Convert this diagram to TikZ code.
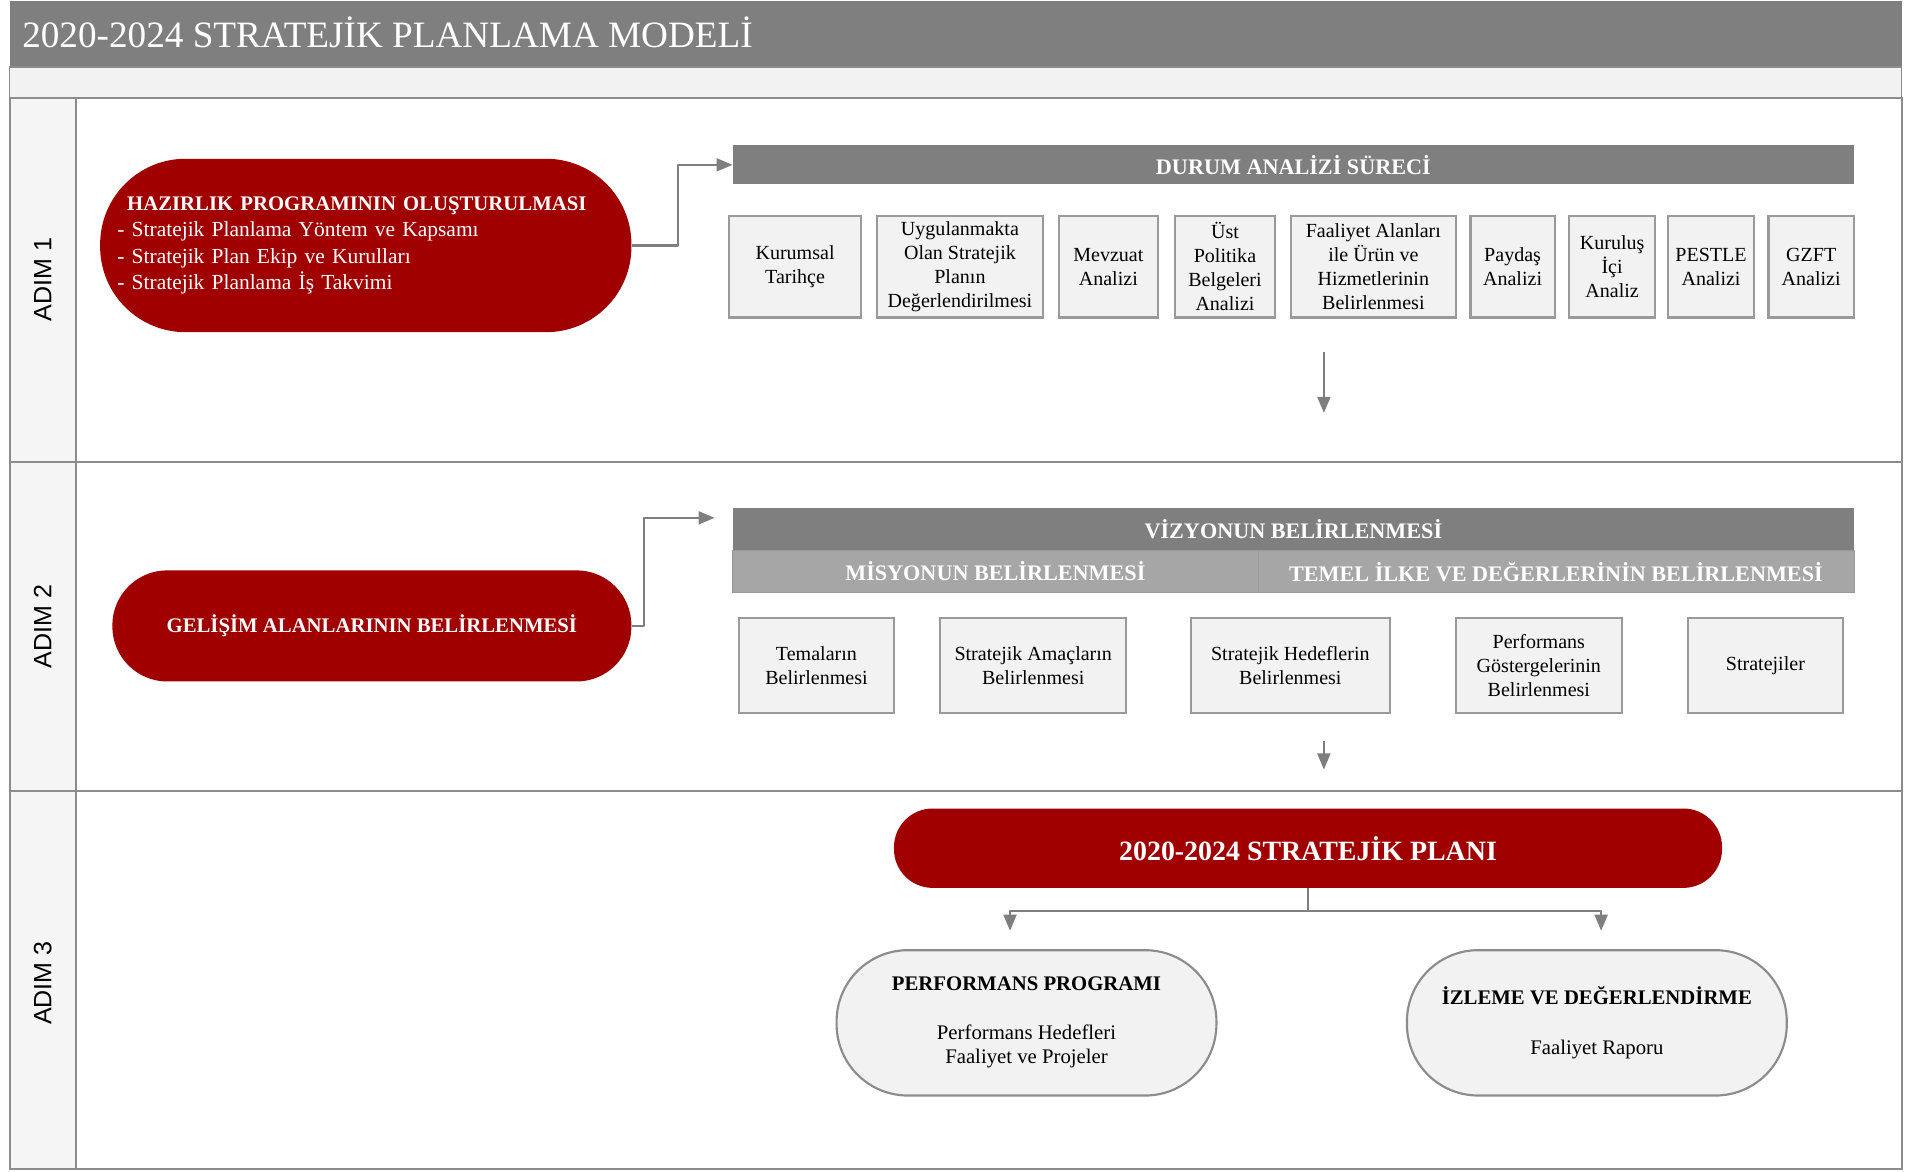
\documentclass[tikz,border=0pt]{standalone}
\usepackage{fontspec}
\setmainfont{Liberation Serif}
\setsansfont{Liberation Sans}
\usepackage{xcolor}
\usepackage{tikz}
\usetikzlibrary{calc}
\usetikzlibrary{arrows}

\definecolor{barGray}{HTML}{7F7F7F}
\definecolor{subGray}{HTML}{A6A6A6}
\definecolor{planRed}{HTML}{A00000}
\definecolor{boxFill}{HTML}{F2F2F2}
\definecolor{boxLine}{HTML}{9A9A9A}
\definecolor{laneLine}{HTML}{8C8C8C}
\definecolor{laneFill}{HTML}{F5F5F5}

\tikzset{
  lane/.style={draw=laneLine, line width=1.5pt},
  analiz/.style={draw=boxLine, fill=boxFill, line width=1.5pt, inner sep=0pt,
    align=center, font=\fontsize{14}{16.8}\selectfont},
  bant/.style={fill=barGray, text=white, inner sep=0pt,
    font=\bfseries\fontsize{15.5}{18}\selectfont},
  altbant/.style={bant, fill=subGray, draw=barGray!80, line width=0.6pt},
  kirmizi/.style={fill=planRed, text=white, inner sep=0pt},
  gri/.style={draw=laneLine, fill=boxFill, line width=1.5pt, inner sep=0pt,
    align=center, font=\fontsize{14.5}{17}\selectfont},
  adim/.style={rotate=90, inner sep=0pt, font=\sffamily\fontsize{17.5}{20}\selectfont},
  ok/.style={draw=barGray, line width=1.6pt, -triangle 45, line join=round},
  hat/.style={draw=barGray, line width=1.6pt}
}

\begin{document}
\begin{tikzpicture}[x=0.03cm, y=-0.03cm]
    \useasboundingbox (0,0) rectangle (1568,959);

    % frame and lanes
    \fill[barGray] (8,1) rectangle (1557,55);
    \filldraw[fill=boxFill, draw=laneLine, line width=1pt] (8,55) rectangle (1557,80);
    \fill[laneFill] (8,80) rectangle (62,957);
    \draw[lane] (8,80) rectangle (1557,957);
    \draw[lane] (8,378) -- (1557,378);
    \draw[lane] (8,648) -- (1557,648);
    \draw[lane] (62,80) -- (62,957);
    \node[anchor=base west, inner sep=0pt, text=white, font=\fontsize{26}{30}\selectfont] (Baslik) at (18,39) {2020-2024 STRATEJİK PLANLAMA MODELİ};
    \node[adim] (Adim1) at (35,229) {ADIM 1};
    \node[adim] (Adim2) at (35,513) {ADIM 2};
    \node[adim] (Adim3) at (35,805) {ADIM 3};

    % ADIM 1
    \node[kirmizi, minimum width=13.05cm, minimum height=4.26cm, rounded corners=2.1cm, align=left,
      text width=12.2cm, font=\fontsize{15}{18.5}\selectfont] (Hzr) at (299.5,201)
      {\hspace*{0.24cm}\textbf{\fontsize{14.5}{18.5}\selectfont HAZIRLIK PROGRAMININ OLUŞTURULMASI}\\
       - Stratejik Planlama Yöntem ve Kapsamı\\
       - Stratejik Plan Ekip ve Kurulları\\
       - Stratejik Planlama İş Takvimi};
    \node[bant, minimum width=27.54cm, minimum height=0.96cm] (Durum) at (1059,135) {DURUM ANALİZİ SÜRECİ};
    \node[analiz, minimum width=3.24cm, minimum height=2.49cm] (Kurumsal) at (651,218.5) {Kurumsal\\Tarihçe};
    \node[analiz, minimum width=4.08cm, minimum height=2.49cm] (Uygulanan) at (786,218.5) {Uygulanmakta\\Olan Stratejik\\Planın\\Değerlendirilmesi};
    \node[analiz, minimum width=2.43cm, minimum height=2.49cm] (Mevzuat) at (907.5,218.5) {Mevzuat\\Analizi};
    \node[analiz, minimum width=2.46cm, minimum height=2.49cm] (UstPol) at (1003,218.5) {Üst\\Politika\\Belgeleri\\Analizi};
    \node[analiz, minimum width=4.05cm, minimum height=2.49cm] (Faaliyet) at (1124.5,218.5) {Faaliyet Alanları\\ile Ürün ve\\Hizmetlerinin\\Belirlenmesi};
    \node[analiz, minimum width=2.07cm, minimum height=2.49cm] (Paydas) at (1238.5,218.5) {Paydaş\\Analizi};
    \node[analiz, minimum width=2.1cm, minimum height=2.49cm] (KurIci) at (1320,218.5) {Kuruluş\\İçi\\Analiz};
    \node[analiz, minimum width=2.1cm, minimum height=2.49cm] (Pestle) at (1401,218.5) {PESTLE\\Analizi};
    \node[analiz, minimum width=2.1cm, minimum height=2.49cm] (Gzft) at (1483,218.5) {GZFT\\Analizi};
    \coordinate (Asagi1a) at (1084,288);
    \coordinate (Asagi1b) at (1084,338);
    \draw[ok] (Hzr.east) -- ++(38,0) |- (Durum.west);
    \draw[ok] (Asagi1a) -- (Asagi1b);

    % ADIM 2
    \node[kirmizi, minimum width=12.75cm, minimum height=2.73cm, rounded corners=1.35cm,
      font=\bfseries\fontsize{14.5}{18}\selectfont] (Gelisim) at (304.5,512.5) {GELİŞİM ALANLARININ BELİRLENMESİ};
    \node[bant, minimum width=27.54cm, minimum height=1.05cm] (Vizyon) at (1059,433.5) {VİZYONUN BELİRLENMESİ};
    \node[altbant, minimum width=12.9cm, minimum height=1.02cm] (Misyon) at (815,468) {MİSYONUN BELİRLENMESİ};
    \node[altbant, minimum width=14.64cm, minimum height=1.02cm] (Temel) at (1274,468) {TEMEL İLKE VE DEĞERLERİNİN BELİRLENMESİ};
    \node[analiz, minimum width=3.81cm, minimum height=2.34cm] (Tema) at (668.5,545) {Temaların\\Belirlenmesi};
    \node[analiz, minimum width=4.56cm, minimum height=2.34cm] (Amac) at (846,545) {Stratejik Amaçların\\Belirlenmesi};
    \node[analiz, minimum width=4.89cm, minimum height=2.34cm] (Hedef) at (1056.5,545) {Stratejik Hedeflerin\\Belirlenmesi};
    \node[analiz, minimum width=4.08cm, minimum height=2.34cm] (Gosterge) at (1260,545) {Performans\\Göstergelerinin\\Belirlenmesi};
    \node[analiz, minimum width=3.81cm, minimum height=2.34cm] (Strateji) at (1445.5,545) {Stratejiler};
    \coordinate (VizyonOk) at (585,424);
    \coordinate (Asagi2a) at (1084,607);
    \coordinate (Asagi2b) at (1084,630);
    \draw[ok] (Gelisim.east) -- ++(10,0) |- (VizyonOk);
    \draw[ok] (Asagi2a) -- (Asagi2b);

    % ADIM 3
    \node[kirmizi, minimum width=20.34cm, minimum height=1.95cm, rounded corners=0.95cm,
      font=\bfseries\fontsize{19.5}{22}\selectfont] (Plan) at (1071,694.5) {2020-2024 STRATEJİK PLANI};
    \node[gri, minimum width=9.33cm, minimum height=3.57cm, rounded corners=1.75cm] (Perf) at (840.5,837.5)
      {\textbf{PERFORMANS PROGRAMI}\\[17pt]Performans Hedefleri\\Faaliyet ve Projeler};
    \node[gri, minimum width=9.33cm, minimum height=3.57cm, rounded corners=1.75cm] (Izleme) at (1307.5,837.5)
      {\textbf{İZLEME VE DEĞERLENDİRME}\\[18pt]Faaliyet Raporu};
    \coordinate (Ayrim) at (1071,746);
    \coordinate (PerfOk) at (827,762);
    \coordinate (IzlemeOk) at (1311,762);
    \draw[hat] (Plan.south) -- (Ayrim);
    \draw[ok] (Ayrim) -| (PerfOk);
    \draw[ok] (Ayrim) -| (IzlemeOk);
  \end{tikzpicture}
\end{document}
